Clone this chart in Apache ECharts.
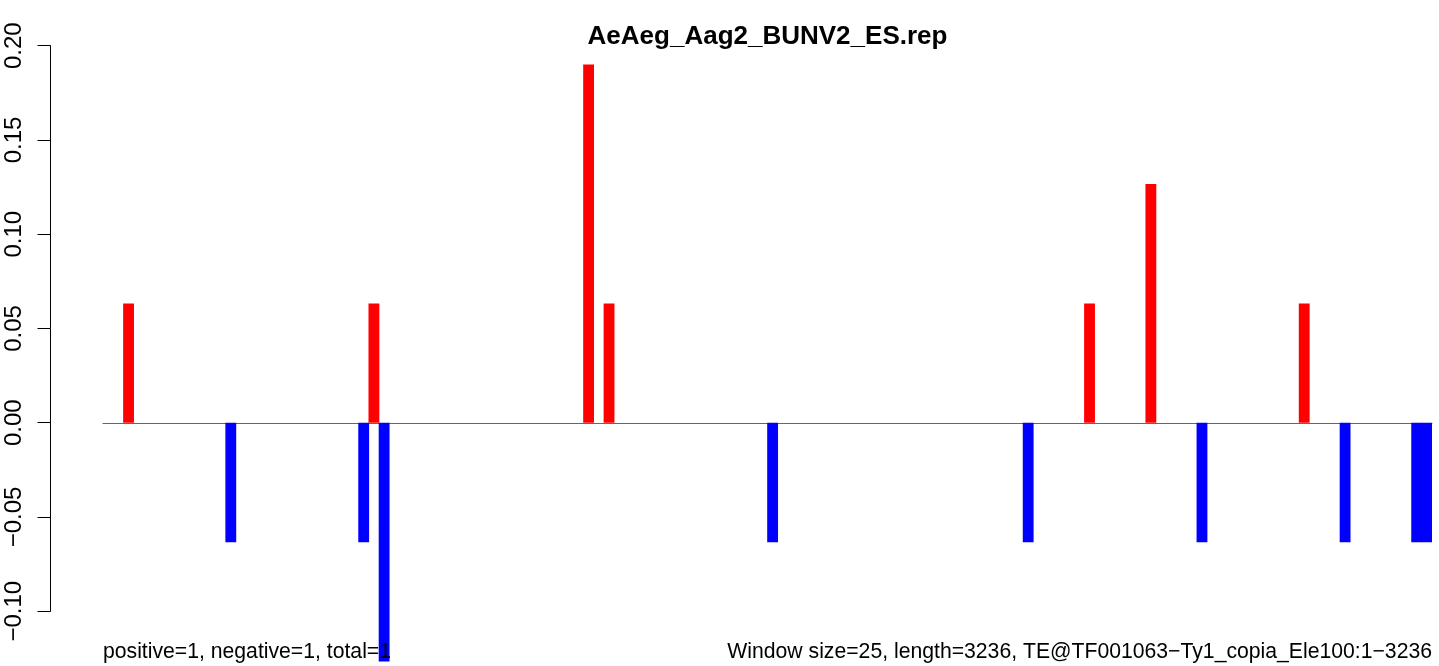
<!DOCTYPE html>
<html>
<head>
<meta charset="utf-8">
<script src="https://cdn.jsdelivr.net/npm/echarts@6/dist/echarts.min.js"></script>
<style>
html,body{margin:0;padding:0;background:#fff;}
#chart{width:1439px;height:666px;}
</style>
</head>
<body>
<div id="chart"></div>
<script>
// ---- data ----
var windowCount = 130;
var posIdx = [2, 26, 47, 49, 96, 102, 117];
var posVal = [0.0633, 0.0633, 0.19, 0.0633, 0.0633, 0.1266, 0.0633];
var negIdx = [12, 25, 27, 65, 90, 107, 121, 128, 129];
var negVal = [-0.0633, -0.0633, -0.1266, -0.0633, -0.0633, -0.0633, -0.0633, -0.0633, -0.0633];
var titleText = 'AeAeg_Aag2_BUNV2_ES.rep';
var leftNote = 'positive=1, negative=1, total=1';
var rightNote = 'Window size=25, length=3236, TE@TF001063\u2212Ty1_copia_Ele100:1\u22123236';

// ---- build ----
var cats = [];
var posData = [];
var negData = [];
for (var i = 0; i < windowCount; i++) { cats.push(String(i + 1)); posData.push(null); negData.push(null); }
posIdx.forEach(function (k, j) { posData[k] = posVal[j]; });
negIdx.forEach(function (k, j) { negData[k] = negVal[j]; });

var FONT = '"Liberation Sans", Arial, Helvetica, sans-serif';
var chart = echarts.init(document.getElementById('chart'), null, {renderer: 'canvas'});
chart.setOption({
  backgroundColor: '#ffffff',
  animation: false,
  textStyle: {fontFamily: FONT},
  title: [
    {text: titleText, left: 767.5, textAlign: 'center', top: 24, padding: 0,
     textStyle: {fontFamily: FONT, fontSize: 26, fontWeight: 'bold', color: '#000'}},
    {text: leftNote, left: 103, top: 642, padding: 0,
     textStyle: {fontFamily: FONT, fontSize: 21.2, fontWeight: 'normal', color: '#000'}},
    {text: rightNote, right: 7, top: 642, padding: 0,
     textStyle: {fontFamily: FONT, fontSize: 21.2, fontWeight: 'normal', color: '#000'}}
  ],
  grid: [
    {left: 103, right: 7, top: 45.7, bottom: 0},
    {left: 50.5, width: 1, top: 45.7, height: 565.5}
  ],
  xAxis: [
    {type: 'category', gridIndex: 0, data: cats, boundaryGap: true,
     axisLine: {show: true, onZero: true, lineStyle: {color: '#666666', width: 1}},
     axisTick: {show: false}, axisLabel: {show: false}, splitLine: {show: false}},
    {type: 'value', gridIndex: 1, show: false}
  ],
  yAxis: [
    {type: 'value', gridIndex: 0, min: -0.129, max: 0.20, show: false, splitLine: {show: false}},
    {type: 'value', gridIndex: 1, min: -0.10, max: 0.20, interval: 0.05, position: 'left',
     axisLine: {show: true, lineStyle: {color: '#000', width: 1}},
     axisTick: {show: true, length: 13, lineStyle: {color: '#000', width: 1}},
     splitLine: {show: false},
     axisLabel: {show: true, rotate: 90, margin: 24, fontSize: 24, lineHeight: 24, color: '#000', fontFamily: FONT,
       formatter: function (v) { return v.toFixed(2).replace('-', '\u2212'); }}}
  ],
  series: [
    {type: 'bar', xAxisIndex: 0, yAxisIndex: 0, stack: 'w', data: posData, barWidth: '106%',
     itemStyle: {color: '#ff0000'}, silent: true},
    {type: 'bar', xAxisIndex: 0, yAxisIndex: 0, stack: 'w', data: negData, barWidth: '106%',
     itemStyle: {color: '#0000ff'}, silent: true}
  ]
});
</script>
</body>
</html>
